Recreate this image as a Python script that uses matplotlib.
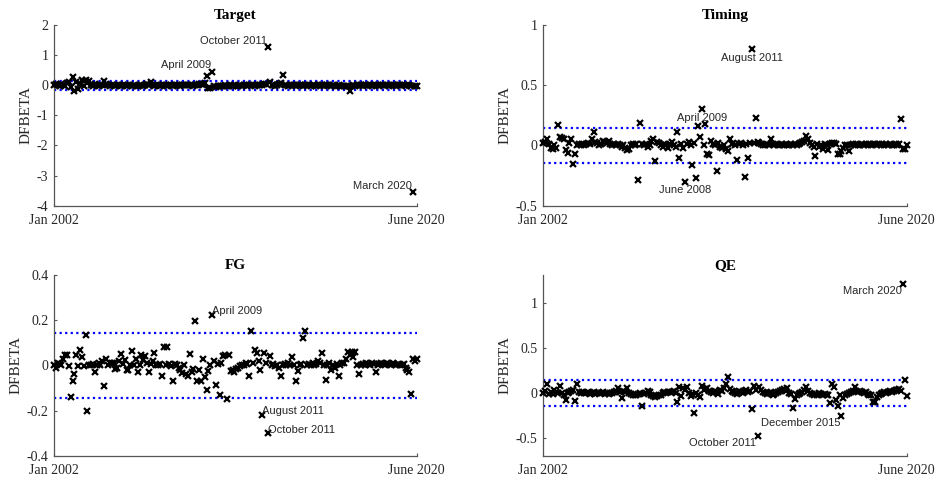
import matplotlib

matplotlib.use("Agg")
import matplotlib.pyplot as plt
import numpy as np

plt.rcParams["axes.unicode_minus"] = False

SERIF, SANS = "Liberation Serif", "Liberation Sans"
INK, AXC, BLUE = "#262626", "#555555", "#0000ff"
W, H = 937, 479

# DFBETA per observation, Jan 2002 .. June 2020 (196 obs)
target = [
    0.02, 0.05, 0.00, -0.03, 0.04, 0.01, -0.02, 0.06, 0.10, -0.05,
    0.26, -0.18, 0.12, -0.14, 0.05, 0.17, -0.04, 0.17, 0.06, 0.15,
    0.02, -0.02, 0.03, 0.00, -0.01, 0.02, 0.01, 0.14, 0.03, 0.01,
    -0.01, 0.00, 0.02, -0.01, 0.00, 0.01, -0.02, 0.00, 0.01, -0.01,
    0.00, 0.02, -0.01, 0.00, -0.02, -0.03, 0.01, 0.00, -0.02, 0.01,
    0.03, 0.02, 0.12, 0.01, -0.01, 0.00, 0.01, -0.01, 0.00, 0.01,
    0.00, -0.01, 0.01, 0.00, -0.01, 0.00, 0.01, 0.00, -0.01, 0.00,
    0.01, 0.00, 0.02, 0.01, 0.00, -0.01, 0.01, 0.02, 0.03, 0.05,
    0.02, 0.06, 0.31, -0.08, -0.10, 0.45, -0.03, -0.05, -0.02, -0.03,
    -0.01, -0.02, 0.00, -0.01, -0.02, 0.00, -0.01, 0.00, -0.02, -0.01,
    0.00, -0.01, 0.01, 0.00, -0.01, 0.00, 0.01, 0.00, -0.01, 0.00,
    0.01, 0.02, 0.00, 0.03, 0.05, 1.26, 0.12, 0.02, 0.00, -0.01,
    0.01, 0.03, 0.06, 0.35, 0.02, 0.00, -0.01, 0.00, 0.01, 0.00,
    -0.01, 0.00, 0.01, 0.00, -0.01, 0.00, 0.00, 0.01, -0.01, 0.00,
    0.00, -0.01, 0.00, 0.01, 0.00, -0.01, 0.00, 0.01, 0.00, -0.01,
    0.00, -0.01, -0.02, 0.00, -0.01, -0.03, -0.02, -0.01, -0.04, -0.18,
    -0.02, 0.00, -0.01, 0.00, 0.01, 0.00, -0.01, 0.00, 0.00, 0.01,
    0.00, -0.01, 0.00, 0.01, 0.00, -0.01, 0.00, 0.00, 0.01, 0.00,
    -0.01, 0.00, 0.01, 0.00, -0.01, 0.00, 0.00, 0.01, 0.00, -0.01,
    0.00, 0.01, -0.01, -3.55, -0.03, -0.03,
]
timing = [
    0.02, 0.03, 0.05, 0.01, -0.02, -0.03, 0.00, -0.02, 0.17, 0.07,
    0.06, 0.05, -0.04, -0.065, 0.02, 0.05, -0.15, -0.07, 0.00, 0.01,
    0.00, 0.01, 0.00, 0.01, 0.02, 0.01, 0.05, 0.11, 0.03, 0.02,
    0.00, 0.01, 0.04, 0.03, 0.02, 0.04, 0.01, 0.00, 0.01, 0.00,
    0.01, 0.00, -0.01, 0.00, -0.02, -0.04, -0.03, 0.00, 0.01, 0.00,
    0.01, -0.29, 0.19, 0.01, 0.00, 0.01, -0.01, 0.00, 0.04, 0.05,
    -0.13, 0.03, 0.02, 0.00, -0.01, 0.01, 0.00, -0.02, 0.01, 0.03,
    0.00, -0.01, 0.11, -0.10, 0.01, -0.02, -0.30, 0.01, 0.03, 0.00,
    -0.16, 0.02, -0.27, 0.16, 0.07, 0.30, 0.00, 0.18, -0.07, -0.08,
    0.04, 0.01, 0.00, -0.21, 0.02, -0.01, -0.02, 0.00, -0.03, -0.05,
    0.05, 0.01, 0.02, 0.00, -0.12, 0.01, 0.02, 0.00, -0.26, 0.01,
    -0.10, 0.02, 0.80, 0.02, 0.23, 0.03, 0.02, 0.01, 0.00, 0.00,
    0.01, 0.00, 0.05, 0.01, 0.00, 0.01, 0.00, 0.00, 0.01, 0.00,
    0.01, 0.00, 0.00, 0.01, 0.00, 0.01, 0.00, 0.01, 0.02, 0.03,
    0.04, 0.08, 0.05, 0.02, 0.00, -0.01, -0.085, 0.01, -0.01, 0.00,
    -0.03, 0.01, 0.00, -0.04, 0.01, 0.02, 0.02, 0.01, -0.07, -0.07,
    -0.05, -0.02, 0.00, 0.00, -0.05, 0.00, 0.01, 0.00, 0.01, 0.00,
    0.00, 0.01, 0.00, 0.01, 0.00, 0.01, 0.00, 0.01, 0.01, 0.00,
    0.01, 0.00, 0.01, 0.00, 0.01, 0.00, 0.01, 0.00, 0.00, 0.01,
    0.00, 0.01, 0.22, -0.03, -0.03, 0.00,
]
fg = [
    0.00, -0.01, 0.01, 0.005, 0.00, 0.03, 0.045, 0.045, -0.005, -0.14,
    -0.07, -0.04, 0.045, -0.005, 0.07, 0.035, -0.005, 0.135, -0.20, 0.00,
    0.00, 0.005, -0.03, 0.00, 0.01, 0.00, 0.02, -0.09, 0.03, 0.00,
    0.01, 0.01, 0.01, -0.015, -0.01, 0.02, 0.05, 0.005, 0.025, -0.02,
    -0.02, 0.00, 0.065, 0.00, 0.03, -0.03, 0.00, 0.045, 0.025, 0.04,
    0.01, -0.03, 0.005, 0.02, 0.055, 0.00, 0.00, 0.005, -0.045, 0.08,
    0.00, 0.08, 0.005, -0.005, -0.07, 0.005, 0.00, -0.01, -0.02, -0.035,
    0.00, -0.04, -0.045, 0.05, -0.03, -0.015, 0.195, -0.07, -0.02, -0.07,
    0.03, -0.05, -0.11, -0.025, 0.00, 0.225, 0.02, -0.085, 0.005, -0.13,
    0.01, 0.04, 0.045, -0.15, 0.045, -0.025, -0.02, -0.03, -0.015, -0.01,
    -0.005, 0.00, 0.00, 0.01, 0.005, -0.045, 0.15, 0.01, 0.07, 0.055,
    0.02, -0.02, -0.22, 0.055, 0.01, -0.30, 0.04, 0.00, 0.005, -0.005,
    0.00, -0.01, -0.045, 0.00, 0.005, 0.00, 0.01, 0.00, 0.035, 0.00,
    -0.07, -0.025, 0.00, 0.005, 0.12, 0.15, 0.00, 0.005, 0.00, 0.01,
    0.00, 0.005, 0.02, 0.01, 0.055, 0.00, -0.065, 0.00, 0.01, -0.02,
    0.00, -0.01, 0.005, -0.045, 0.00, 0.01, 0.01, 0.03, 0.06, 0.045,
    0.06, 0.035, 0.06, 0.00, -0.04, 0.00, 0.005, 0.00, 0.01, 0.005,
    0.00, 0.01, 0.005, -0.03, 0.00, 0.005, 0.01, 0.005, 0.00, 0.01,
    0.005, 0.00, 0.01, 0.005, 0.00, 0.005, 0.00, 0.00, 0.005, -0.01,
    -0.02, -0.03, -0.127, 0.028, 0.02, 0.028,
]
qe = [
    0.00, 0.02, 0.10, -0.01, 0.01, -0.015, 0.03, 0.01, 0.00, 0.08,
    0.00, -0.02, -0.075, 0.00, 0.01, 0.02, 0.03, -0.09, 0.10, 0.01,
    0.00, 0.01, -0.005, 0.00, 0.01, -0.01, 0.00, 0.005, -0.01, 0.00,
    -0.005, 0.00, 0.01, -0.01, 0.00, -0.015, -0.005, 0.00, 0.01, 0.02,
    0.055, 0.01, -0.06, 0.02, 0.01, 0.05, 0.00, -0.01, -0.02, -0.03,
    -0.02, -0.01, 0.00, -0.15, -0.01, 0.00, 0.02, 0.01, -0.03, -0.04,
    -0.045, -0.04, -0.03, -0.02, 0.00, 0.01, 0.00, 0.01, 0.005, 0.01,
    0.02, 0.00, -0.105, 0.065, -0.04, 0.05, 0.03, 0.065, 0.00, -0.035,
    -0.01, -0.22, 0.00, -0.02, -0.05, 0.08, 0.03, 0.04, 0.05, 0.02,
    0.01, 0.00, 0.02, 0.01, -0.01, 0.03, 0.02, 0.05, 0.10, 0.18,
    0.04, 0.02, 0.01, 0.00, -0.01, 0.02, 0.01, 0.00, 0.02, 0.03,
    0.01, 0.02, -0.18, 0.075, 0.03, -0.48, 0.065, 0.03, 0.01, 0.00,
    -0.01, 0.00, 0.01, -0.02, -0.01, 0.00, 0.01, 0.02, 0.03, 0.04,
    0.02, 0.055, 0.00, -0.01, -0.165, -0.07, -0.02, -0.01, 0.00, 0.01,
    0.03, 0.065, 0.02, 0.00, -0.01, -0.02, -0.01, -0.02, 0.00, -0.01,
    -0.02, -0.01, -0.02, -0.03, -0.11, 0.095, 0.06, -0.075, -0.145, -0.03,
    -0.255, -0.06, -0.03, -0.01, 0.00, 0.01, 0.02, 0.06, 0.02, 0.01,
    0.02, 0.01, 0.00, 0.01, -0.01, -0.02, -0.03, -0.105, -0.105, -0.045,
    -0.02, -0.01, 0.00, 0.01, 0.00, 0.01, 0.02, 0.01, 0.02, 0.03,
    0.03, 0.04, 0.02, 1.21, 0.14, -0.035,
]

x_ticklabels = ["Jan 2002", "June 2020"]
cutoff = 0.143  # 2/sqrt(n)

# labelled observations (index -> month)
target_notes = [(85, "April 2009"), (115, "October 2011"), (193, "March 2020")]
timing_notes = [(112, "August 2011"), (85, "April 2009"), (76, "June 2008")]
fg_notes = [(85, "April 2009"), (112, "August 2011"), (115, "October 2011")]
qe_notes = [(115, "October 2011"), (160, "December 2015"), (193, "March 2020")]


def rect(l, r, t, b):
    return [l / W, 1 - b / H, (r - l) / W, (b - t) / H]


panels = [
    ("Target", target, (-4, 2), [-4, -3, -2, -1, 0, 1, 2], target_notes,
     rect(54, 416.7, 25, 205.7), dict(ha="right", va="bottom", xytext=(-1, 1))),
    ("Timing", timing, (-0.5, 1), [-0.5, 0, 0.5, 1], timing_notes,
     rect(543.3, 906.7, 25, 205.7), dict(ha="center", va="top", xytext=(0, -2.5))),
    ("FG", fg, (-0.4, 0.4), [-0.4, -0.2, 0, 0.2, 0.4], fg_notes,
     rect(54, 416.7, 275, 455.7), dict(ha="left", va="bottom", xytext=(0, -1))),
    ("QE", qe, (-0.7, 1.31), [-0.5, 0, 0.5, 1], qe_notes,
     rect(543.3, 906.7, 275, 455.7), dict(ha="right", va="top", xytext=(-1, -1.5))),
]

fig = plt.figure(figsize=(W / 100, H / 100), dpi=100)
for title, vals, ylim, yticks, notes, pos, note_kw in panels:
    y = np.asarray(vals, float)
    assert len(y) == 196, (title, len(y))
    x = np.arange(len(y))
    ax = fig.add_axes(pos)
    ax.axhline(cutoff, color=BLUE, ls=(0, (1, 1.5)), lw=1.6, zorder=1)
    ax.axhline(-cutoff, color=BLUE, ls=(0, (1, 1.5)), lw=1.6, zorder=1)
    ax.plot(x, y, "x", color="black", ms=3.8, mew=1.6, clip_on=False, zorder=3)
    for i, txt in notes:
        ax.annotate(txt, (x[i], y[i]), textcoords="offset points",
                    fontsize=8, family=SANS, color=INK, **note_kw)

    ax.set_xlim(0, len(y) - 1)
    ax.set_ylim(*ylim)
    ax.set_xticks([0, len(y) - 1])
    ax.set_xticklabels(x_ticklabels)
    ax.set_yticks(yticks)
    ax.set_yticklabels([f"{v:g}" for v in yticks])
    for s in ("top", "right"):
        ax.spines[s].set_visible(False)
    for s in ("left", "bottom"):
        ax.spines[s].set_color(AXC)
        ax.spines[s].set_linewidth(0.9)
    ax.tick_params(direction="in", length=2.5, width=0.8, color=AXC,
                   labelcolor=INK, labelsize=10, pad=4)
    ax.tick_params(axis="x", pad=6)
    for lab in ax.get_xticklabels() + ax.get_yticklabels():
        lab.set_family(SERIF)
    ax.set_ylabel("DFBETA", family=SERIF, fontsize=11, color=INK, labelpad=3)
    ax.set_title(title, family=SERIF, fontsize=11, fontweight="bold",
                 color="black", pad=4)

fig.savefig("out.png", dpi=100)
